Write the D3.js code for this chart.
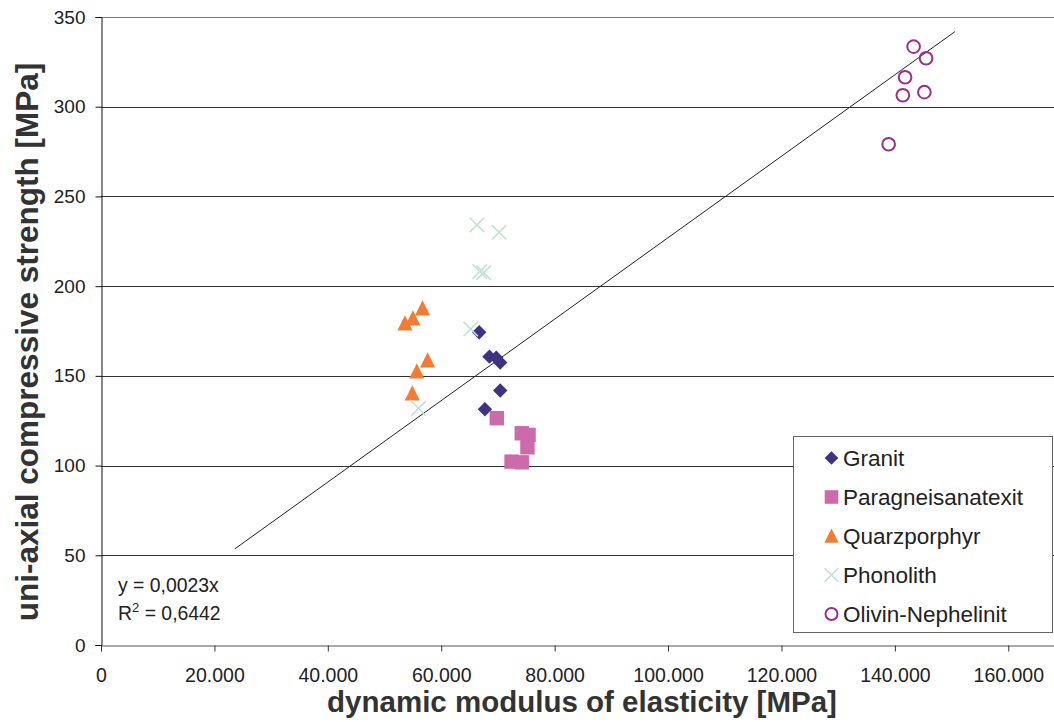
<!DOCTYPE html>
<html>
<head>
<meta charset="utf-8">
<script src="https://cdn.jsdelivr.net/npm/d3@7"></script>
<style>
  body { margin: 0; background: #fff; }
  svg { display: block; font-family: "Liberation Sans", Arial, sans-serif; }
</style>
</head>
<body>
<svg id="chart" width="1054" height="722"></svg>
<script>
// values
const granit = [
    [66700, 174.3], [68500, 160.7], [69700, 160.1],
    [70400, 157.4], [70400, 141.8], [67700, 131.4]
]
const paragneis = [
    [69800, 126.4], [74200, 118.0], [75400, 117.1],
    [75200, 110.2], [72400, 102.2], [74200, 101.8]
]
const quarzporphyr = [
    [56700, 187.7], [55000, 182.1], [53600, 179.3],
    [57600, 158.7], [55700, 152.6], [54900, 140.3]
]
const phonolith = [
    [66300, 234.1], [70200, 230.0], [66800, 208.1],
    [67500, 207.5], [65200, 176.1], [56000, 131.9]
]
const olivin = [
    [143300, 333.5], [145500, 327.0], [141800, 316.4],
    [141400, 306.4], [145200, 308.1], [138900, 279.1]
]
const xTicks = [0, 20000, 40000, 60000, 80000, 100000, 120000, 140000, 160000]
const yTicks = [0, 50, 100, 150, 200, 250, 300, 350]
const trendSlope = 0.00227
const trendRange = [23600, 150600]
const seriesNames = ['Granit', 'Paragneisanatexit', 'Quarzporphyr', 'Phonolith', 'Olivin-Nephelinit']

const series = [
    { name: seriesNames[0], data: granit, shape: 'diamond', color: '#3f3282' },
    { name: seriesNames[1], data: paragneis, shape: 'square', color: '#cc6aac' },
    { name: seriesNames[2], data: quarzporphyr, shape: 'triangle', color: '#f47b33' },
    { name: seriesNames[3], data: phonolith, shape: 'cross', color: '#bfe3d0' },
    { name: seriesNames[4], data: olivin, shape: 'circle', color: '#9a2f8e' },
]

const svg = d3.select('#chart')

const x = d3.scaleLinear().domain([0, 170000]).range([101, 1065])
const y = d3.scaleLinear().domain([0, 350]).range([645, 17])

const fmt = d => d === 0 ? '0' : d3.format(',')(d).replace(/,/g, '.')

// horizontal gridlines
svg.append('g')
    .selectAll('line')
    .data(yTicks.filter(d => d > 0))
    .join('line')
    .attr('x1', x(0))
    .attr('x2', x(170000))
    .attr('y1', d => Math.round(y(d)) + 0.5)
    .attr('y2', d => Math.round(y(d)) + 0.5)
    .attr('stroke', d => d === 350 ? '#777' : '#333')
    .attr('stroke-width', 1)

// y axis
const yAxis = svg.append('g')
    .attr('transform', `translate(${x(0) + 0.5},0)`)
    .call(d3.axisLeft(y).tickValues(yTicks).tickSize(6).tickPadding(10).tickFormat(d => d))
yAxis.select('.domain').attr('stroke', '#111')
yAxis.selectAll('.tick line').attr('stroke', '#111')
yAxis.selectAll('text').attr('font-size', 19).attr('fill', '#222')
    .attr('font-family', '"Liberation Sans", Arial, sans-serif')

// x axis
const xAxis = svg.append('g')
    .attr('transform', `translate(0,${Math.round(y(0)) + 0.5})`)
    .call(d3.axisBottom(x).tickValues(xTicks).tickSize(6).tickPadding(17).tickFormat(fmt))
xAxis.select('.domain').attr('stroke', '#555')
xAxis.selectAll('.tick line').attr('stroke', '#333')
xAxis.selectAll('text').attr('font-size', 19.5).attr('fill', '#222')
    .attr('font-family', '"Liberation Sans", Arial, sans-serif')

// axis titles
svg.append('text')
    .attr('x', 582)
    .attr('y', 712)
    .attr('text-anchor', 'middle')
    .attr('font-size', 29.5)
    .attr('font-weight', 'bold')
    .attr('fill', '#333')
    .text('dynamic modulus of elasticity [MPa]')

svg.append('text')
    .attr('transform', 'translate(38,342) rotate(-90)')
    .attr('text-anchor', 'middle')
    .attr('font-size', 31.5)
    .attr('font-weight', 'bold')
    .attr('fill', '#333')
    .text('uni-axial compressive strength [MPa]')

// trendline
svg.append('line')
    .attr('x1', x(trendRange[0]))
    .attr('y1', y(trendRange[0] * trendSlope))
    .attr('x2', x(trendRange[1]))
    .attr('y2', y(trendRange[1] * trendSlope))
    .attr('stroke', '#222')
    .attr('stroke-width', 1)

// equation label
const eq = svg.append('g').attr('font-size', 19.4).attr('fill', '#222')
eq.append('text').attr('x', 118).attr('y', 592).text('y = 0,0023x')
const r2 = eq.append('text').attr('x', 118).attr('y', 620)
r2.append('tspan').text('R')
r2.append('tspan').attr('font-size', 13).attr('dy', -8).text('2')
r2.append('tspan').attr('dy', 8).text(' = 0,6442')

function drawMarker(g, shape, color, s) {
    if (shape === 'diamond') {
        g.append('path').attr('d', `M0,${-s}L${s},0L0,${s}L${-s},0Z`).attr('fill', color)
    } else if (shape === 'square') {
        g.append('rect').attr('x', -s).attr('y', -s)
            .attr('width', s * 2).attr('height', s * 2).attr('fill', color)
    } else if (shape === 'triangle') {
        g.append('path').attr('d', `M0,${-s * 1.1}L${s * 1.05},${s}L${-s * 1.05},${s}Z`).attr('fill', color)
    } else if (shape === 'cross') {
        g.append('path').attr('d', `M${-s},${-s}L${s},${s}M${s},${-s}L${-s},${s}`)
            .attr('stroke', color).attr('stroke-width', 1.6).attr('fill', 'none')
    } else {
        g.append('circle').attr('r', s * 0.88).attr('fill', 'none')
            .attr('stroke', color).attr('stroke-width', 2)
    }
}

// points
series.forEach(sr => {
    svg.append('g')
        .selectAll('g')
        .data(sr.data)
        .join('g')
        .attr('transform', d => `translate(${x(d[0])},${y(d[1])})`)
        .each(function () { drawMarker(d3.select(this), sr.shape, sr.color, 7.2) })
})

// legend
const legend = svg.append('g')
legend.append('rect')
    .attr('x', 793.5).attr('y', 436.5)
    .attr('width', 259).attr('height', 196)
    .attr('fill', '#fff').attr('stroke', '#666')

series.forEach((sr, i) => {
    const yy = 458 + i * 39
    const g = legend.append('g').attr('transform', `translate(831.5,${yy})`)
    drawMarker(g, sr.shape, sr.color, 6.8)
    legend.append('text')
        .attr('x', 843).attr('y', yy + 7.5)
        .attr('font-size', 22.5).attr('fill', '#222')
        .text(sr.name)
})
</script>
</body>
</html>
